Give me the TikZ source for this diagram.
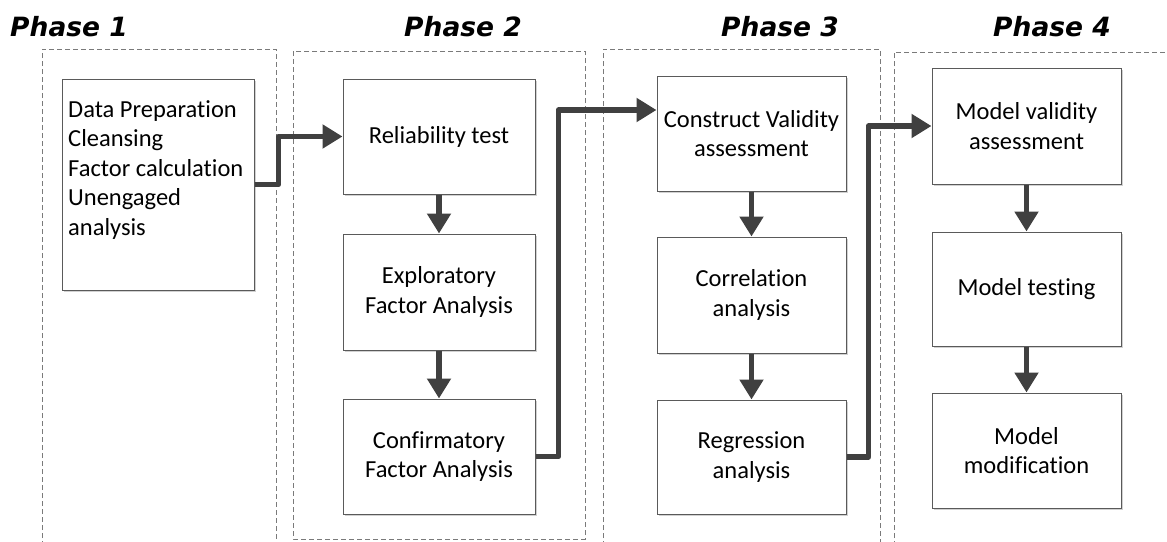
\documentclass[tikz,border=0pt]{standalone}
\usepackage{fontspec}
\setmainfont{Carlito}[Ligatures=NoCommon]
\newfontfamily\phasefont{DejaVu Sans}
\usetikzlibrary{arrows.meta,shadows}
\definecolor{boxline}{HTML}{5A5A5A}
\definecolor{dashline}{HTML}{7A7A7A}
\definecolor{flowcol}{HTML}{404040}
\tikzset{
  phasebox/.style={draw=dashline, line width=0.8pt, dash pattern=on 5pt off 3pt},
  phaselabel/.style={font=\phasefont\bfseries\itshape\fontsize{26.5}{30}\selectfont, anchor=base, inner sep=0pt},
  stepbox/.style={draw=boxline, line width=1pt, fill=white, inner sep=0pt, align=center,
    minimum width=191pt, minimum height=115pt,
    font=\fontsize{24.5}{29.5}\selectfont,
    drop shadow={shadow xshift=2pt, shadow yshift=-2pt, fill=black!18, opacity=1}},
  flow/.style={draw=flowcol, line width=5.5pt, line join=round,
    -{Triangle[length=20pt,width=23pt]}},
}
\begin{document}
\begin{tikzpicture}[x=1pt,y=-1pt]
\useasboundingbox (0,0) rectangle (1167,541);
\clip (0,0) rectangle (1167,541);
\fill[white] (0,0) rectangle (1167,541);

% phase frames
\draw[phasebox] (42,570) -- (42,49) -- (276,49) -- (276,570);
\draw[phasebox] (293,51) rectangle (585,539);
\draw[phasebox] (603,570) -- (603,49) -- (880,49) -- (880,570);
\draw[phasebox] (894,570) -- (894,52) -- (1180,52);

% phase labels
\node[phaselabel] (ph1) at (69,36) {Phase 1};
\node[phaselabel] (ph2) at (463,36) {Phase 2};
\node[phaselabel] (ph3) at (780,36) {Phase 3};
\node[phaselabel] (ph4) at (1052,36) {Phase 4};

% phase 1
\node[stepbox, minimum width=192pt, minimum height=211pt] (dp) at (158,184.5) {};
\node[anchor=north west, inner sep=0pt, align=left, font=\fontsize{24.5}{29.5}\selectfont] (dptxt) at (68,100)
  {Data Preparation\\Cleansing\\Factor calculation\\Unengaged\\analysis};

% phase 2
\node[stepbox, minimum width=192pt] (rel) at (439,136.5) {Reliability test};
\node[stepbox, minimum width=192pt, minimum height=116pt] (efa) at (439,292) {Exploratory\\Factor Analysis};
\node[stepbox, minimum width=192pt] (cfa) at (439,456.5) {Confirmatory\\Factor Analysis};

% phase 3
\node[stepbox, minimum width=189pt] (cva) at (751.5,133.5) {Construct Validity\\assessment};
\node[stepbox, minimum width=189pt, minimum height=116pt] (cor) at (751.5,295) {Correlation\\analysis};
\node[stepbox, minimum width=189pt, minimum height=114pt] (reg) at (751.5,457) {Regression\\analysis};

% phase 4
\node[stepbox, minimum width=189pt, minimum height=116pt] (mva) at (1026.5,126) {Model validity\\assessment};
\node[stepbox, minimum width=189pt, minimum height=114pt] (mt) at (1026.5,289) {Model testing};
\node[stepbox, minimum width=189pt] (mm) at (1026.5,450.5) {Model\\modification};

% connectors between phases
\draw[flow] (dp.east) -- ++(24,0) |- (rel.west);
\draw[flow] (cfa.east) -- ++(23,0) |- ([yshift=23.5pt]cva.west);
\draw[flow] (reg.east) -- ++(22,0) |- (mva.west);

% connectors within phases
\draw[flow] (rel) -- (efa);
\draw[flow] (efa) -- (cfa);
\draw[flow] (cva) -- (cor);
\draw[flow] (cor) -- (reg);
\draw[flow] (mva) -- (mt);
\draw[flow] (mt) -- (mm);
\end{tikzpicture}
\end{document}
